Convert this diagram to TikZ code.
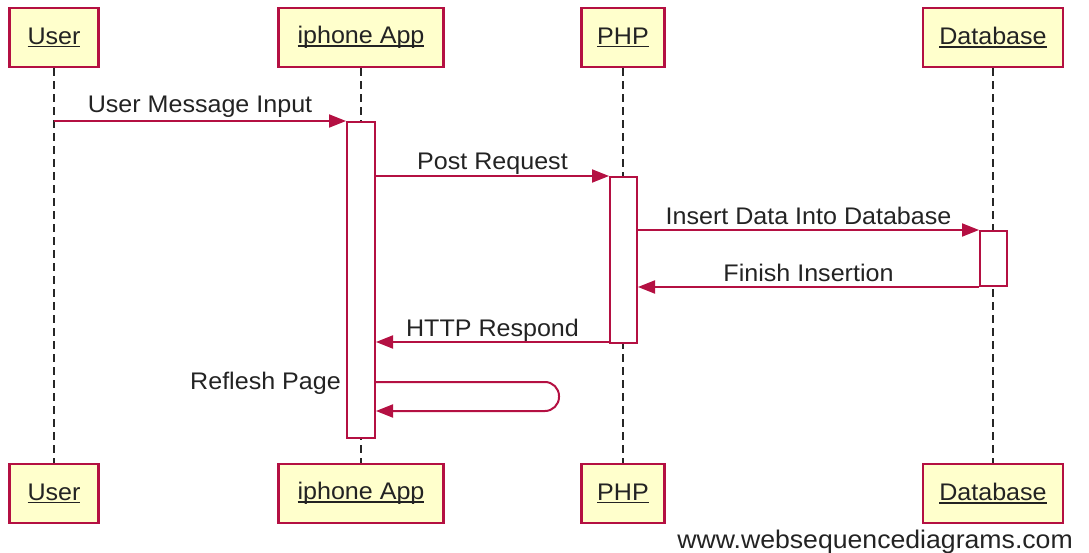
\documentclass[tikz,border=0pt]{standalone}
\usepackage{fontspec}
\setmainfont[FakeStretch=1.045]{Liberation Sans}
\usetikzlibrary{arrows.meta,calc}
\definecolor{seqred}{RGB}{180,16,66}
\definecolor{seqfill}{RGB}{255,255,204}
\definecolor{seqtext}{RGB}{35,35,35}
\newcommand{\ulin}[1]{\setbox0\hbox{#1}\rlap{\rule[-3.2pt]{\wd0}{1.8pt}}\box0}
\begin{document}
\begin{tikzpicture}[x=1pt,y=-1pt,
  actor/.style={draw=seqred,fill=seqfill,line width=2.2pt,minimum height=59pt,inner sep=0pt,
    text=seqtext,font=\fontsize{24}{28}\selectfont},
  life/.style={draw=black!85,line width=2pt,dash pattern=on 8pt off 5pt},
  actbox/.style={draw=seqred,fill=white,line width=2pt,inner sep=0pt,minimum width=27pt},
  msg/.style={draw=seqred,line width=2pt,-{Triangle[length=17pt,width=13pt]}},
  lbl/.style={text=seqtext,font=\fontsize{24}{28}\selectfont,inner sep=0pt},
]
\useasboundingbox (0,0) rectangle (1089,553);
% actors top
\node[actor,minimum width=89pt]  (u1) at (54,37.5)  {\ulin{User}};
\node[actor,minimum width=165pt] (i1) at (361,37.5) {\ulin{iphone App}};
\node[actor,minimum width=83pt]  (p1) at (623,37.5) {\ulin{PHP}};
\node[actor,minimum width=140pt] (d1) at (993,37.5) {\ulin{Database}};
% actors bottom
\node[actor,minimum width=89pt]  (u2) at (54,493.5)  {\ulin{User}};
\node[actor,minimum width=165pt] (i2) at (361,493.5) {\ulin{iphone App}};
\node[actor,minimum width=83pt]  (p2) at (623,493.5) {\ulin{PHP}};
\node[actor,minimum width=140pt] (d2) at (993,493.5) {\ulin{Database}};
% lifelines
\draw[life] (u1.south) -- (u2.north);
\draw[life] (i1.south) -- (i2.north);
\draw[life] (p1.south) -- (p2.north);
\draw[life] (d1.south) -- (d2.north);
% activations
\node[actbox,minimum width=28pt,minimum height=316pt] (ai) at (361,280) {};
\node[actbox,minimum height=166pt] (ap) at (623.5,260) {};
\node[actbox,minimum height=55pt]  (ad) at (993.5,258.5) {};
% messages
\draw[msg] (u1.south |- ai.north west) -- node[lbl,anchor=base,yshift=8pt]{User Message Input} (ai.north west);
\draw[msg] (ai.east |- ap.north) -- node[lbl,anchor=base,yshift=6pt]{Post Request} (ap.north west);
\draw[msg] (ap.east |- ad.north) -- node[lbl,anchor=base,yshift=5pt]{Insert Data Into Database} (ad.north west);
\draw[msg] (ad.south west) -- node[lbl,anchor=base,yshift=5pt]{Finish Insertion} (ap.east |- ad.south);
\draw[msg] ($(ap.south west)+(0,-2)$) -- node[lbl,anchor=base,yshift=6pt]{HTTP Respond} ($(ai.east |- ap.south)+(0,-2)$);
% self message
\coordinate (rs) at ($(ai.east)+(0,102)$);
\coordinate (re) at ($(ai.east)+(0,131)$);
\draw[msg,rounded corners=14pt] (rs) -- ++(183,0) -- ++(0,29) -- (re);
\node[lbl,anchor=base east] (rl) at (341,389) {Reflesh Page};
% watermark
\node[lbl,anchor=base east,font=\fontsize{25.5}{28}\selectfont] (wm) at (1073,548) {www.websequencediagrams.com};
\end{tikzpicture}
\end{document}
